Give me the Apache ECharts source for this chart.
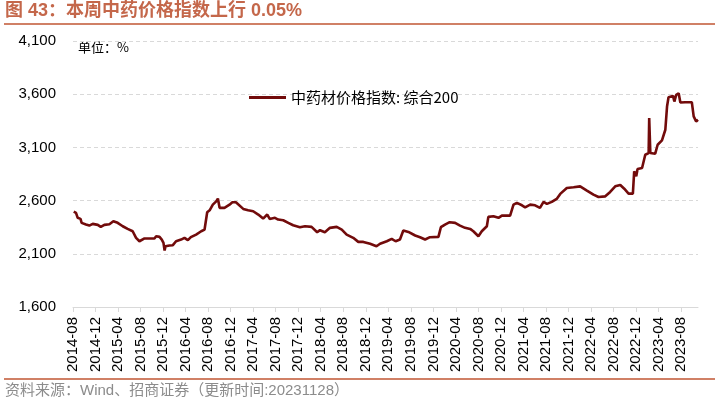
<!DOCTYPE html>
<html>
<head>
<meta charset="utf-8">
<script src="https://cdn.jsdelivr.net/npm/echarts@6/dist/echarts.min.js"></script>
<style>
  html, body { margin: 0; padding: 0; background: #fff; }
  #chart { width: 715px; height: 403px; }
</style>
</head>
<body>
<div id="chart"></div>
<script>
// 中药材价格指数：综合200（周度，读图估计）
var dates = [
  '2014-08-05', '2014-08-17', '2014-08-26', '2014-09-11', '2014-09-17', '2014-10-10', '2014-10-28', '2014-11-16',
  '2014-12-13', '2014-12-29', '2015-01-18', '2015-02-15', '2015-02-24', '2015-03-06', '2015-03-29', '2015-04-26',
  '2015-05-22', '2015-06-19', '2015-07-07', '2015-07-25', '2015-08-04', '2015-08-22', '2015-09-18', '2015-10-15',
  '2015-10-24', '2015-11-12', '2015-11-24', '2015-12-03', '2015-12-09', '2015-12-14', '2016-01-05', '2016-01-23',
  '2016-02-10', '2016-02-19', '2016-03-07', '2016-03-25', '2016-04-13', '2016-04-29', '2016-05-27', '2016-06-24',
  '2016-07-12', '2016-07-26', '2016-08-09', '2016-08-26', '2016-09-14', '2016-09-23', '2016-10-02', '2016-10-28',
  '2016-11-25', '2016-12-10', '2016-12-29', '2017-02-08', '2017-03-04', '2017-04-01', '2017-04-28', '2017-05-24',
  '2017-06-16', '2017-06-29', '2017-07-27', '2017-08-14', '2017-09-11', '2017-10-08', '2017-11-04', '2017-12-10',
  '2018-01-07', '2018-02-12', '2018-03-12', '2018-03-27', '2018-04-23', '2018-05-20', '2018-06-26', '2018-07-23',
  '2018-08-19', '2018-09-24', '2018-10-21', '2018-11-18', '2018-12-24', '2019-01-28', '2019-02-17', '2019-03-23',
  '2019-04-19', '2019-05-10', '2019-06-03', '2019-06-12', '2019-06-21', '2019-07-18', '2019-08-24', '2019-09-20',
  '2019-10-17', '2019-11-13', '2019-12-28', '2020-01-11', '2020-02-03', '2020-02-28', '2020-03-27', '2020-04-06',
  '2020-04-23', '2020-05-20', '2020-06-17', '2020-07-04', '2020-08-01', '2020-08-19', '2020-09-16', '2020-09-24',
  '2020-10-21', '2020-11-18', '2020-12-06', '2021-01-20', '2021-02-08', '2021-02-26', '2021-03-23', '2021-04-10',
  '2021-05-07', '2021-06-03', '2021-06-29', '2021-07-18', '2021-08-06', '2021-09-02', '2021-09-28', '2021-10-17',
  '2021-11-22', '2021-12-28', '2022-02-03', '2022-03-09', '2022-04-14', '2022-05-11', '2022-06-17', '2022-07-13',
  '2022-08-10', '2022-09-07', '2022-09-28', '2022-10-21', '2022-11-14', '2022-11-21', '2022-12-02', '2022-12-09',
  '2023-01-03', '2023-01-20', '2023-02-08', '2023-02-11', '2023-02-17', '2023-03-13', '2023-03-26', '2023-04-19',
  '2023-05-07', '2023-05-16', '2023-05-24', '2023-06-18', '2023-06-25', '2023-07-05', '2023-07-18', '2023-07-27',
  '2023-08-23', '2023-09-28', '2023-10-08', '2023-10-21', '2023-11-01'
]
var indexValues = [
  2497, 2485, 2438, 2428, 2391, 2375, 2365, 2381,
  2372, 2353, 2372, 2378, 2391, 2406, 2391, 2359,
  2334, 2312, 2250, 2218, 2212, 2244, 2244, 2244,
  2265, 2259, 2234, 2203, 2131, 2171, 2178, 2181,
  2218, 2203, 2234, 2250, 2228, 2256, 2281, 2312,
  2328, 2490, 2509, 2562, 2593, 2619, 2532, 2532,
  2562, 2584, 2584, 2522, 2509, 2500, 2469, 2431,
  2469, 2428, 2438, 2422, 2415, 2391, 2368, 2350,
  2359, 2353, 2303, 2322, 2303, 2344, 2353, 2328,
  2281, 2250, 2212, 2212, 2194, 2171, 2194, 2218,
  2240, 2218, 2234, 2234, 2319, 2306, 2272, 2256,
  2234, 2256, 2259, 2350, 2375, 2397, 2391, 2400,
  2365, 2344, 2334, 2312, 2265, 2312, 2359, 2447,
  2453, 2438, 2459, 2459, 2562, 2578, 2556, 2537,
  2562, 2556, 2532, 2588, 2569, 2588, 2616, 2663,
  2719, 2725, 2734, 2694, 2656, 2634, 2640, 2681,
  2734, 2747, 2712, 2666, 2666, 2875, 2828, 2897,
  2906, 3031, 3047, 3376, 3047, 3041, 3125, 3166,
  3266, 3484, 3572, 3584, 3531, 3594, 3609, 3522,
  3525, 3525, 3391, 3344, 3359
]
var xTickLabels = [
  '2014-08', '2014-12', '2015-04', '2015-08', '2015-12', '2016-04', '2016-08', '2016-12', '2017-04', '2017-08',
  '2017-12', '2018-04', '2018-08', '2018-12', '2019-04', '2019-08', '2019-12', '2020-04', '2020-08', '2020-12',
  '2021-04', '2021-08', '2021-12', '2022-04', '2022-08', '2022-12', '2023-04', '2023-08'
]
var yTicks = [1600, 2100, 2600, 3100, 3600, 4100]
var xEnd = '2023-11'
var seriesName = '中药材价格指数: 综合200'

// 以2014-08为0，按月换算横轴位置
function monthPos (s) {
  var p = s.split('-').map(Number)
  var d = p.length > 2 ? (p[2] - 1) / 30 : 0
  return (p[0] - 2014) * 12 + (p[1] - 8) + d
}
var lineData = dates.map(function (d, i) { return [monthPos(d), indexValues[i]] })
var xTicks = xTickLabels.map(monthPos)
var labelOf = {}
xTickLabels.forEach(function (l) { labelOf[monthPos(l)] = l })

var sans = 'Liberation Sans, Arial, Noto Sans CJK SC, sans-serif'
var chart = echarts.init(document.getElementById('chart'))
chart.setOption({
  animation: false,
  backgroundColor: '#fff',
  grid: { left: 73, right: 17, top: 41, bottom: 96 },
  legend: {
    left: 244,
    top: 85,
    icon: 'rect',
    itemWidth: 37,
    itemHeight: 3,
    itemGap: 6,
    textStyle: { fontFamily: 'Noto Sans CJK SC', fontSize: 15, color: '#000' },
    data: [seriesName]
  },
  xAxis: {
    type: 'value',
    min: 0,
    max: monthPos(xEnd),
    axisLine: { lineStyle: { color: '#d9d9d9', width: 1 } },
    axisTick: { show: true, length: 5, customValues: xTicks, lineStyle: { color: '#d9d9d9' } },
    axisLabel: {
      customValues: xTicks,
      rotate: 90,
      margin: 10,
      fontFamily: sans,
      fontSize: 15,
      color: '#000',
      formatter: function (v) { return labelOf[v] || '' }
    },
    splitLine: { show: false }
  },
  yAxis: {
    type: 'value',
    min: 1600,
    max: 4100,
    axisLine: { show: false },
    axisTick: { show: false, customValues: yTicks },
    axisLabel: {
      customValues: yTicks,
      margin: 17,
      fontFamily: sans,
      fontSize: 15,
      color: '#000',
      formatter: function (v) { return v.toLocaleString('en-US') }
    },
    splitLine: { show: true, lineStyle: { color: '#d9d9d9', type: [4, 3], width: 1 } }
  },
  series: [{
    name: seriesName,
    type: 'line',
    data: lineData,
    showSymbol: false,
    symbol: 'none',
    color: '#720b0b',
    lineStyle: { color: '#720b0b', width: 2.6 }
  }],
  graphic: [
    {
      type: 'text', left: 5, top: 2,
      style: { text: '图 43：本周中药价格指数上行 0.05%', fill: '#c4674a', font: 'bold 18px Liberation Sans, Noto Sans CJK SC, sans-serif' }
    },
    {
      type: 'line', shape: { x1: 4, y1: 24, x2: 715, y2: 24 },
      style: { stroke: '#d08066', lineWidth: 2 }
    },
    {
      type: 'text', left: 78, top: 41,
      style: { text: '单位：%', fill: '#000', font: '13px Noto Sans CJK SC, sans-serif' }
    },
    {
      type: 'line', shape: { x1: 4, y1: 379, x2: 715, y2: 379 },
      style: { stroke: '#d08066', lineWidth: 2 }
    },
    {
      type: 'text', left: 5, top: 383,
      style: { text: '资料来源：Wind、招商证券（更新时间:20231128）', fill: '#8c8c8c', font: '15px Liberation Sans, Noto Sans CJK SC, sans-serif' }
    }
  ]
})
</script>
</body>
</html>
